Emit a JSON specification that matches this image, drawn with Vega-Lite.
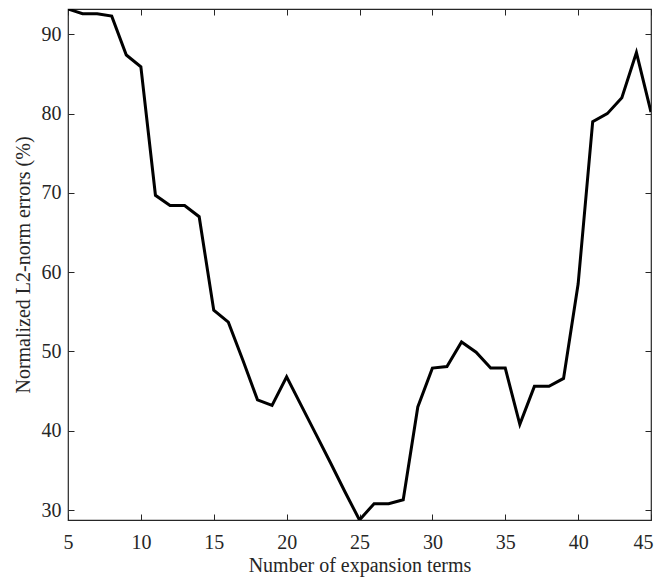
{
  "$schema": "https://vega.github.io/schema/vega-lite/v6.json",
  "width": 583,
  "height": 511,
  "autosize": {"type": "none"},
  "padding": {"left": 68, "top": 9, "right": 11, "bottom": 62},
  "background": "white",
  "config": {
    "font": "Liberation Serif",
    "view": {"stroke": "#262626", "strokeWidth": 1.2},
    "axis": {
      "domain": false,
      "grid": false,
      "ticks": true,
      "tickColor": "#262626",
      "tickSize": 6,
      "tickWidth": 1,
      "offset": -6,
      "labelFont": "Liberation Serif",
      "labelFontSize": 20,
      "labelColor": "#262626",
      "titleFont": "Liberation Serif",
      "titleFontSize": 20,
      "titleFontWeight": "normal",
      "titleColor": "#262626"
    }
  },
  "data": {
    "values": [
      {"n": 5, "err": 93.2}, {"n": 6, "err": 92.6}, {"n": 7, "err": 92.6}, {"n": 8, "err": 92.3},
      {"n": 9, "err": 87.4}, {"n": 10, "err": 85.9}, {"n": 11, "err": 69.7}, {"n": 12, "err": 68.4},
      {"n": 13, "err": 68.4}, {"n": 14, "err": 67.0}, {"n": 15, "err": 55.2}, {"n": 16, "err": 53.7},
      {"n": 17, "err": 48.9}, {"n": 18, "err": 43.9}, {"n": 19, "err": 43.2}, {"n": 20, "err": 46.8},
      {"n": 21, "err": 43.2}, {"n": 22, "err": 39.6}, {"n": 23, "err": 36.0}, {"n": 24, "err": 32.3},
      {"n": 25, "err": 28.74}, {"n": 26, "err": 30.8}, {"n": 27, "err": 30.8}, {"n": 28, "err": 31.3},
      {"n": 29, "err": 43.0}, {"n": 30, "err": 47.9}, {"n": 31, "err": 48.1}, {"n": 32, "err": 51.2},
      {"n": 33, "err": 49.9}, {"n": 34, "err": 47.9}, {"n": 35, "err": 47.9}, {"n": 36, "err": 40.8},
      {"n": 37, "err": 45.6}, {"n": 38, "err": 45.6}, {"n": 39, "err": 46.6}, {"n": 40, "err": 58.5},
      {"n": 41, "err": 79.0}, {"n": 42, "err": 80.0}, {"n": 43, "err": 82.0}, {"n": 44, "err": 87.7},
      {"n": 45, "err": 80.2}
    ]
  },
  "layer": [
    {
      "mark": {"type": "line", "color": "black", "strokeWidth": 3, "clip": true},
      "encoding": {
        "x": {
          "field": "n", "type": "quantitative",
          "scale": {"domain": [5, 45], "nice": false, "zero": false},
          "axis": {
            "orient": "bottom",
            "values": [5, 10, 15, 20, 25, 30, 35, 40, 45],
            "labelPadding": 12,
            "labelAlign": {"condition": {"test": "datum.value == 45", "value": "right"}, "value": "center"},
            "labelOffset": {"condition": {"test": "datum.value == 45", "value": 2}, "value": 0},
            "title": "Number of expansion terms",
            "titlePadding": 3
          }
        },
        "y": {
          "field": "err", "type": "quantitative",
          "scale": {"domain": [28.74, 93.2], "nice": false, "zero": false},
          "axis": {
            "orient": "left",
            "values": [30, 40, 50, 60, 70, 80, 90],
            "labelPadding": 7,
            "title": "Normalized L2-norm errors (%)",
            "titlePadding": 8
          }
        }
      }
    },
    {
      "mark": {"type": "line", "opacity": 0},
      "encoding": {
        "x": {
          "field": "n", "type": "quantitative",
          "scale": {"domain": [5, 45], "nice": false, "zero": false},
          "axis": {"orient": "top", "values": [5, 10, 15, 20, 25, 30, 35, 40, 45], "labels": false, "title": null}
        },
        "y": {
          "field": "err", "type": "quantitative",
          "scale": {"domain": [28.74, 93.2], "nice": false, "zero": false},
          "axis": {"orient": "right", "values": [30, 40, 50, 60, 70, 80, 90], "labels": false, "title": null}
        }
      }
    }
  ],
  "resolve": {"axis": {"x": "independent", "y": "independent"}}
}
